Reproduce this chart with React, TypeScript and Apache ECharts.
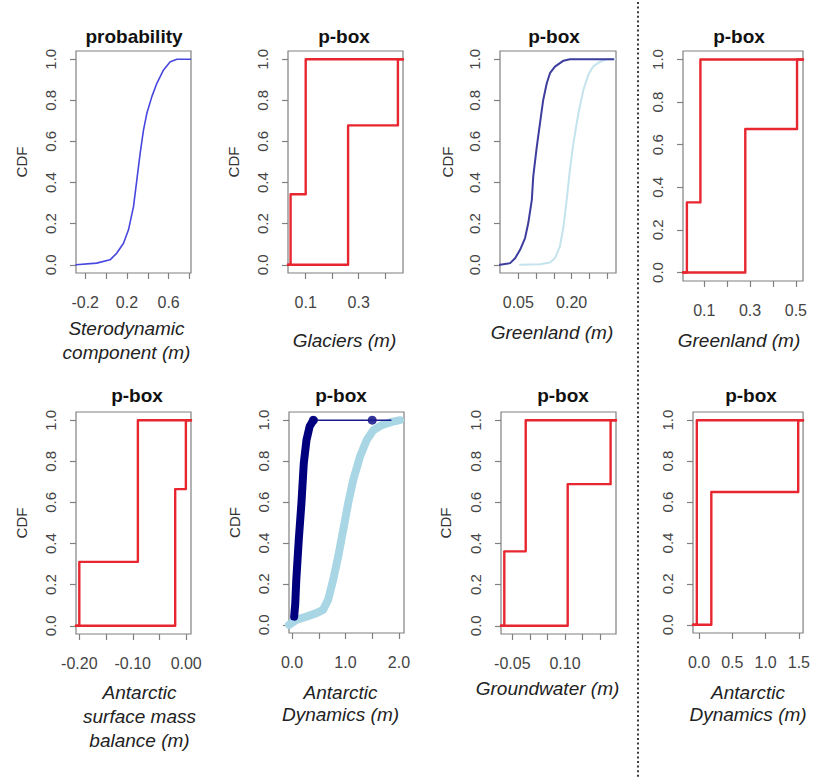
import React, { useEffect, useRef } from "react";
import * as echarts from "echarts";

// ---------- data ----------
const cdfTicks = [0, 0.2, 0.4, 0.6, 0.8, 1.0];

// Panel 1: Sterodynamic component (probability)
const sterodynamicX = [-0.288, -0.09, 0.038, 0.103, 0.167, 0.215, 0.263, 0.295, 0.327, 0.359, 0.391, 0.439, 0.487, 0.551, 0.615, 0.68, 0.81];
const sterodynamicCdf = [0, 0.008, 0.024, 0.057, 0.105, 0.17, 0.283, 0.413, 0.543, 0.656, 0.737, 0.818, 0.883, 0.948, 0.988, 1.0, 1.0];

// Panel 2: Glaciers p-box
const glaciersUpperX = [0.043, 0.1];
const glaciersUpperP = [0.343, 1.0];
const glaciersLowerX = [0.26, 0.448];
const glaciersLowerP = [0.678, 1.0];

// Panel 3: Greenland p-box (two CDFs)
const greenlandLowX = [-0.0015, 0.027, 0.041, 0.055, 0.069, 0.078, 0.088, 0.092, 0.102, 0.111, 0.12, 0.13, 0.139, 0.153, 0.177, 0.195, 0.317];
const greenlandLowCdf = [0, 0.008, 0.032, 0.073, 0.13, 0.203, 0.316, 0.43, 0.575, 0.689, 0.802, 0.883, 0.932, 0.964, 0.993, 1.0, 1.0];
const greenlandHighX = [0.055, 0.111, 0.139, 0.153, 0.167, 0.177, 0.186, 0.195, 0.205, 0.219, 0.233, 0.247, 0.26, 0.28, 0.299, 0.322];
const greenlandHighCdf = [0, 0.003, 0.011, 0.032, 0.089, 0.186, 0.316, 0.462, 0.592, 0.737, 0.851, 0.924, 0.964, 0.988, 1.0, 1.0];

// Panel 4: Greenland p-box (steps)
const greenlandBoxUpperX = [0.024, 0.083];
const greenlandBoxUpperP = [0.329, 1.0];
const greenlandBoxLowerX = [0.279, 0.505];
const greenlandBoxLowerP = [0.674, 1.0];

// Panel 5: Antarctic surface mass balance p-box
const smbUpperX = [-0.2, -0.0904];
const smbUpperP = [0.311, 1.0];
const smbLowerX = [-0.0206, -0.0006];
const smbLowerP = [0.665, 1.0];

// Panel 6: Antarctic dynamics p-box (two CDFs)
const antDynNavyX = [0.04, 0.06, 0.08, 0.126, 0.176, 0.22, 0.27, 0.33, 0.40];
const antDynNavyCdf = [0.04, 0.1, 0.22, 0.415, 0.594, 0.789, 0.902, 0.97, 1.0];
const antDynNavyTailX = [0.40, 1.85];
const antDynNavyDotX = [0.40, 1.5];
const antDynLightX = [-0.056, 0.08, 0.27, 0.457, 0.58, 0.675, 0.77, 0.863, 0.957, 1.05, 1.144, 1.27, 1.395, 1.52, 1.677, 1.865, 2.02];
const antDynLightCdf = [0.0, 0.024, 0.04, 0.057, 0.073, 0.122, 0.22, 0.333, 0.463, 0.594, 0.707, 0.821, 0.902, 0.951, 0.976, 0.992, 1.0];

// Panel 7: Groundwater p-box
const groundUpperX = [-0.0728, -0.0118];
const groundUpperP = [0.362, 1.0];
const groundLowerX = [0.1078, 0.23];
const groundLowerP = [0.689, 1.0];

// Panel 8: Antarctic dynamics p-box (steps)
const antBoxUpperX = [-0.034];
const antBoxUpperP = [1.0];
const antBoxLowerX = [0.184, 1.49];
const antBoxLowerP = [0.649, 1.0];

// x-axis ticks / labels
const ticks1 = [-0.2, 0, 0.2, 0.4, 0.6, 0.8];
const labels1 = [-0.2, 0.2, 0.6];
const ticks2 = [0.1, 0.2, 0.3, 0.4];
const labels2 = [0.1, 0.3];
const ticks3 = [0.05, 0.1, 0.15, 0.2, 0.25, 0.3];
const labels3 = [0.05, 0.2];
const ticks4 = [0.1, 0.2, 0.3, 0.4, 0.5];
const labels4 = [0.1, 0.3, 0.5];
const ticks5 = [-0.2, -0.15, -0.1, -0.05, 0];
const labels5 = [-0.2, -0.1, 0];
const ticks6 = [0, 0.5, 1, 1.5, 2];
const labels6 = [0, 1, 2];
const ticks7 = [-0.05, 0, 0.05, 0.1, 0.15, 0.2];
const labels7 = [-0.05, 0.1];
const ticks8 = [0, 0.5, 1, 1.5];
const labels8 = [0, 0.5, 1, 1.5];

// ---------- layout ----------
type Panel = {
  box: [number, number, number, number];
  xMin: number;
  xMax: number;
  ticks: number[];
  labels: number[];
  digits: number;
  title: string;
  titleX: number;
  titleY: number;
  name: string;
  nameGap: number;
  nameLH: number;
  nameShift: number;
  cdf: boolean;
  cdfGap: number;
};

const panels: Panel[] = [
  { box: [76, 51, 115, 222], xMin: -0.2885, xMax: 0.8144, ticks: ticks1, labels: labels1, digits: 1, title: "probability", titleX: 134, titleY: 38, name: "Sterodynamic\ncomponent (m)", nameGap: 43, nameLH: 24, nameShift: -7, cdf: true, cdfGap: 47 },
  { box: [288, 51, 115, 222], xMin: 0.0332, xMax: 0.4672, ticks: ticks2, labels: labels2, digits: 1, title: "p-box", titleX: 344, titleY: 38, name: "Glaciers (m)", nameGap: 55, nameLH: 24, nameShift: -1, cdf: true, cdfGap: 47 },
  { box: [500, 51, 116, 222], xMin: -0.0015, xMax: 0.3247, ticks: ticks3, labels: labels3, digits: 2, title: "p-box", titleX: 554, titleY: 38, name: "Greenland (m)", nameGap: 47, nameLH: 24, nameShift: -6, cdf: true, cdfGap: 45 },
  { box: [683, 51, 120, 230], xMin: 0.007, xMax: 0.531, ticks: ticks4, labels: labels4, digits: 1, title: "p-box", titleX: 739, titleY: 38, name: "Greenland (m)", nameGap: 47, nameLH: 24, nameShift: -4, cdf: false, cdfGap: 45 },
  { box: [76, 412, 115, 222], xMin: -0.2062, xMax: 0.009, ticks: ticks5, labels: labels5, digits: 2, title: "p-box", titleX: 137, titleY: 397, name: "Antarctic\nsurface mass\nbalance (m)", nameGap: 46, nameLH: 24, nameShift: 6, cdf: true, cdfGap: 47 },
  { box: [289, 412, 115, 221], xMin: -0.0563, xMax: 2.094, ticks: ticks6, labels: labels6, digits: 1, title: "p-box", titleX: 341, titleY: 397, name: "Antarctic\nDynamics (m)", nameGap: 48, nameLH: 22, nameShift: -6, cdf: true, cdfGap: 47 },
  { box: [501, 412, 115, 222], xMin: -0.0822, xMax: 0.2454, ticks: ticks7, labels: labels7, digits: 2, title: "p-box", titleX: 563, titleY: 397, name: "Groundwater (m)", nameGap: 42, nameLH: 24, nameShift: -11, cdf: true, cdfGap: 48 },
  { box: [693, 412, 114, 221], xMin: -0.0914, xMax: 1.563, ticks: ticks8, labels: labels8, digits: 1, title: "p-box", titleX: 751, titleY: 397, name: "Antarctic\nDynamics (m)", nameGap: 48, nameLH: 22, nameShift: 0, cdf: false, cdfGap: 45 },
];

const FONT = "'Liberation Sans', Arial, Helvetica, sans-serif";
const RED = "#e8262f";
const BOX = "#808080";

function zip(xs: number[], ys: number[]) {
  return xs.map((x, i) => [x, ys[i]]);
}

function stepData(xs: number[], ps: number[], xmin: number, xmax: number) {
  const pts: number[][] = [[xmin, 0]];
  xs.forEach((x, i) => pts.push([x, ps[i]]));
  pts.push([xmax, ps[ps.length - 1]]);
  return pts;
}

function lineSeries(idx: number, data: number[][], color: string, width: number, step?: string) {
  return {
    type: "line",
    xAxisIndex: idx,
    yAxisIndex: idx,
    data,
    showSymbol: false,
    symbol: "none",
    step: step || false,
    clip: true,
    silent: true,
    lineStyle: { color, width, cap: "round", join: "round" },
  };
}

function pboxSeries(idx: number, ux: number[], up: number[], lx: number[], lp: number[]) {
  const p = panels[idx];
  return [
    lineSeries(idx, stepData(ux, up, p.xMin, p.xMax), RED, 2.4, "end"),
    lineSeries(idx, stepData(lx, lp, p.xMin, p.xMax), RED, 2.4, "end"),
  ];
}

export default function App() {
  const ref = useRef<HTMLDivElement>(null);

  useEffect(() => {
    if (!ref.current) return;
    const chart = echarts.init(ref.current, undefined, { renderer: "svg" });

    const grid = panels.map((p) => ({
      left: p.box[0],
      top: p.box[1],
      width: p.box[2],
      height: p.box[3],
      show: true,
      borderColor: BOX,
      borderWidth: 1.2,
      backgroundColor: "transparent",
      containLabel: false,
    }));

    const xAxis = panels.map((p, i) => ({
      type: "value",
      gridIndex: i,
      min: p.xMin,
      max: p.xMax,
      position: "bottom",
      axisLine: { show: false, onZero: false },
      splitLine: { show: false },
      axisTick: { show: true, inside: false, length: 6, lineStyle: { color: BOX, width: 1.2 }, customValues: p.ticks },
      axisLabel: {
        show: true,
        margin: 21,
        color: "#444",
        fontSize: 16,
        fontFamily: FONT,
        customValues: p.labels,
        formatter: (v: number) => v.toFixed(p.digits),
      },
      name: p.name,
      nameLocation: "middle",
      nameGap: p.nameGap,
      nameTextStyle: {
        fontStyle: "italic",
        fontSize: 19,
        color: "#222",
        fontFamily: FONT,
        lineHeight: p.nameLH,
        align: "center",
        padding: [0, 0, 0, p.nameShift * 2],
      },
    }));

    const yAxis = panels.map((p, i) => ({
      type: "value",
      gridIndex: i,
      min: -0.04,
      max: 1.04,
      position: "left",
      axisLine: { show: false, onZero: false },
      splitLine: { show: false },
      axisTick: { show: true, inside: false, length: 6, lineStyle: { color: BOX, width: 1.2 }, customValues: cdfTicks },
      axisLabel: {
        show: true,
        rotate: 90,
        margin: 18,
        color: "#444",
        fontSize: 15,
        fontFamily: FONT,
        customValues: cdfTicks,
        formatter: (v: number) => v.toFixed(1),
      },
      name: p.cdf ? "CDF" : "",
      nameLocation: "middle",
      nameGap: p.cdfGap,
      nameTextStyle: { fontSize: 15, color: "#333", fontFamily: FONT },
    }));

    const title = panels.map((p) => ({
      text: p.title,
      left: p.titleX,
      top: p.titleY - 11,
      textAlign: "center",
      padding: 0,
      textStyle: { fontSize: 19, fontWeight: "bold", color: "#111", fontFamily: FONT },
    }));

    const series: any[] = [
      lineSeries(0, zip(sterodynamicX, sterodynamicCdf), "#4747e0", 1.6),
      ...pboxSeries(1, glaciersUpperX, glaciersUpperP, glaciersLowerX, glaciersLowerP),
      lineSeries(2, zip(greenlandHighX, greenlandHighCdf), "#c4e3ec", 2),
      lineSeries(2, zip(greenlandLowX, greenlandLowCdf), "#3d3d9e", 2),
      ...pboxSeries(3, greenlandBoxUpperX, greenlandBoxUpperP, greenlandBoxLowerX, greenlandBoxLowerP),
      ...pboxSeries(4, smbUpperX, smbUpperP, smbLowerX, smbLowerP),
      lineSeries(5, zip(antDynLightX, antDynLightCdf), "#a8d6e4", 8),
      lineSeries(5, antDynNavyTailX.map((x) => [x, 1.0]), "#1a1a8c", 1.4),
      lineSeries(5, zip(antDynNavyX, antDynNavyCdf), "#00007f", 8),
      {
        type: "scatter",
        xAxisIndex: 5,
        yAxisIndex: 5,
        data: antDynNavyDotX.map((x) => [x, 1.0]),
        symbol: "circle",
        symbolSize: 9,
        silent: true,
        itemStyle: { color: "#00007f" },
      },
      ...pboxSeries(6, groundUpperX, groundUpperP, groundLowerX, groundLowerP),
      ...pboxSeries(7, antBoxUpperX, antBoxUpperP, antBoxLowerX, antBoxLowerP),
    ];

    chart.setOption({
      animation: false,
      backgroundColor: "#ffffff",
      textStyle: { fontFamily: FONT },
      title,
      grid,
      xAxis,
      yAxis,
      series,
      graphic: [
        {
          type: "line",
          shape: { x1: 638, y1: 2, x2: 638, y2: 778 },
          style: { stroke: "#3a3a3a", lineWidth: 2, lineDash: [2, 2.6] },
          silent: true,
        },
      ],
    });

    return () => chart.dispose();
  }, []);

  return (
    <div
      ref={ref}
      style={{ position: "absolute", left: 0, top: 0, width: 813, height: 782, background: "#fff" }}
    />
  );
}
